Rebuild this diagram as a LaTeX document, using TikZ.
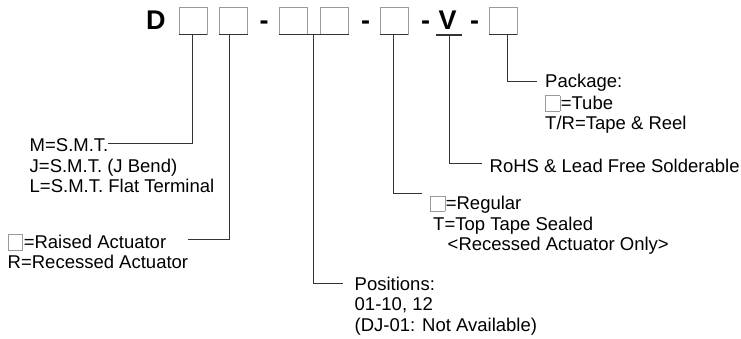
\documentclass[tikz,border=0pt]{standalone}
\usepackage{fontspec}
\setmainfont{Liberation Sans}
\definecolor{boxgray}{HTML}{9A9A9A}
\definecolor{linegray}{HTML}{333333}
\newcommand{\opensq}{\raisebox{-1.5pt}{{\color{boxgray}\setlength{\fboxsep}{0pt}\setlength{\fboxrule}{0.8pt}\fbox{\rule{0pt}{14.5pt}\hspace{13.5pt}}}}\hspace{0.5pt}}
\begin{document}
\begin{tikzpicture}[x=1pt,y=-1pt,
  tbox/.style={draw=boxgray,line width=0.8pt,minimum width=28pt,minimum height=27pt,inner sep=0pt},
  botline/.style={draw=linegray,line width=1.4pt},
  conn/.style={draw=linegray,line width=0.9pt},
  big/.style={font=\fontsize{27}{30}\selectfont\bfseries,inner sep=0pt,anchor=base},
  txt/.style={font=\fontsize{18.5}{21}\selectfont,inner sep=0pt,anchor=base west}]
\useasboundingbox (0,0) rectangle (741,338);
% header
\node[big,anchor=base west] (D) at (146,29.5) {D};
\node[tbox] (b1) at (193,20.8) {};
\node[tbox] (b2) at (233.5,20.8) {};
\node[big] (h1) at (264,29.5) {-};
\node[tbox] (b3) at (293.5,20.8) {};
\node[tbox] (b4) at (334.5,20.8) {};
\node[big] (h2) at (365.5,29.5) {-};
\node[tbox] (b5) at (394,20.8) {};
\node[big] (h3) at (425.5,29.5) {-};
\node[big] (V) at (447.5,29.5) {V};
\node[big] (h4) at (474.5,29.5) {-};
\node[tbox] (b6) at (503,20.8) {};
\draw[botline] (b1.south west) -- (b1.south east);
\draw[botline] (b2.south west) -- (b2.south east);
\draw[botline] (b3.south west) -- (b4.south east);
\draw[botline] (b5.south west) -- (b5.south east);
\draw[botline] (b6.south west) -- (b6.south east);
\coordinate (vl) at (436,35);
\coordinate (vr) at (462,35);
\draw[conn,line width=1.2pt] (vl) -- (vr);
% connector starts and ends
\coordinate (t1) at (192,35);   \coordinate (e1) at (108,143);
\coordinate (t2) at (229.5,35); \coordinate (e2) at (188,239);
\coordinate (t3) at (313,35);   \coordinate (e3) at (343,283);
\coordinate (t5) at (393,35);   \coordinate (e5) at (422,193);
\coordinate (t6) at (449,35);   \coordinate (e6) at (482,163);
\coordinate (t7) at (507,35);   \coordinate (e7) at (537,81);
\draw[conn] (t1) |- (e1);
\draw[conn] (t2) |- (e2);
\draw[conn] (t3) |- (e3);
\draw[conn] (t5) |- (e5);
\draw[conn] (t6) |- (e6);
\draw[conn] (t7) |- (e7);
% texts
\node[txt] (m1) at (29.5,151.5) {M=S.M.T.};
\node[txt] (m2) at (29.5,172) {J=S.M.T. (J Bend)};
\node[txt] (m3) at (29.5,192.5) {L=S.M.T. Flat Terminal};
\node[txt] (r1) at (8,248) {\opensq=Raised Actuator};
\node[txt] (r2) at (7.5,268.5) {R=Recessed Actuator};
\node[txt] (p1) at (545,87.5) {Package:};
\node[txt] (p2) at (545,109) {\opensq=Tube};
\node[txt] (p3) at (545,129.5) {T/R=Tape \& Reel};
\node[txt] (h) at (489.5,172.5) {RoHS \& Lead Free Solderable};
\node[txt] (g1) at (430,209.5) {\opensq=Regular};
\node[txt] (g2) at (433,230) {T=Top Tape Sealed};
\node[txt] (g3) at (447.5,250.5) {<Recessed Actuator Only>};
\node[txt] (q1) at (354.5,290) {Positions:};
\node[txt] (q2) at (354.5,310.5) {01-10, 12};
\node[txt] (q3) at (354.5,331) {(DJ-01: Not Available)};
\end{tikzpicture}
\end{document}
